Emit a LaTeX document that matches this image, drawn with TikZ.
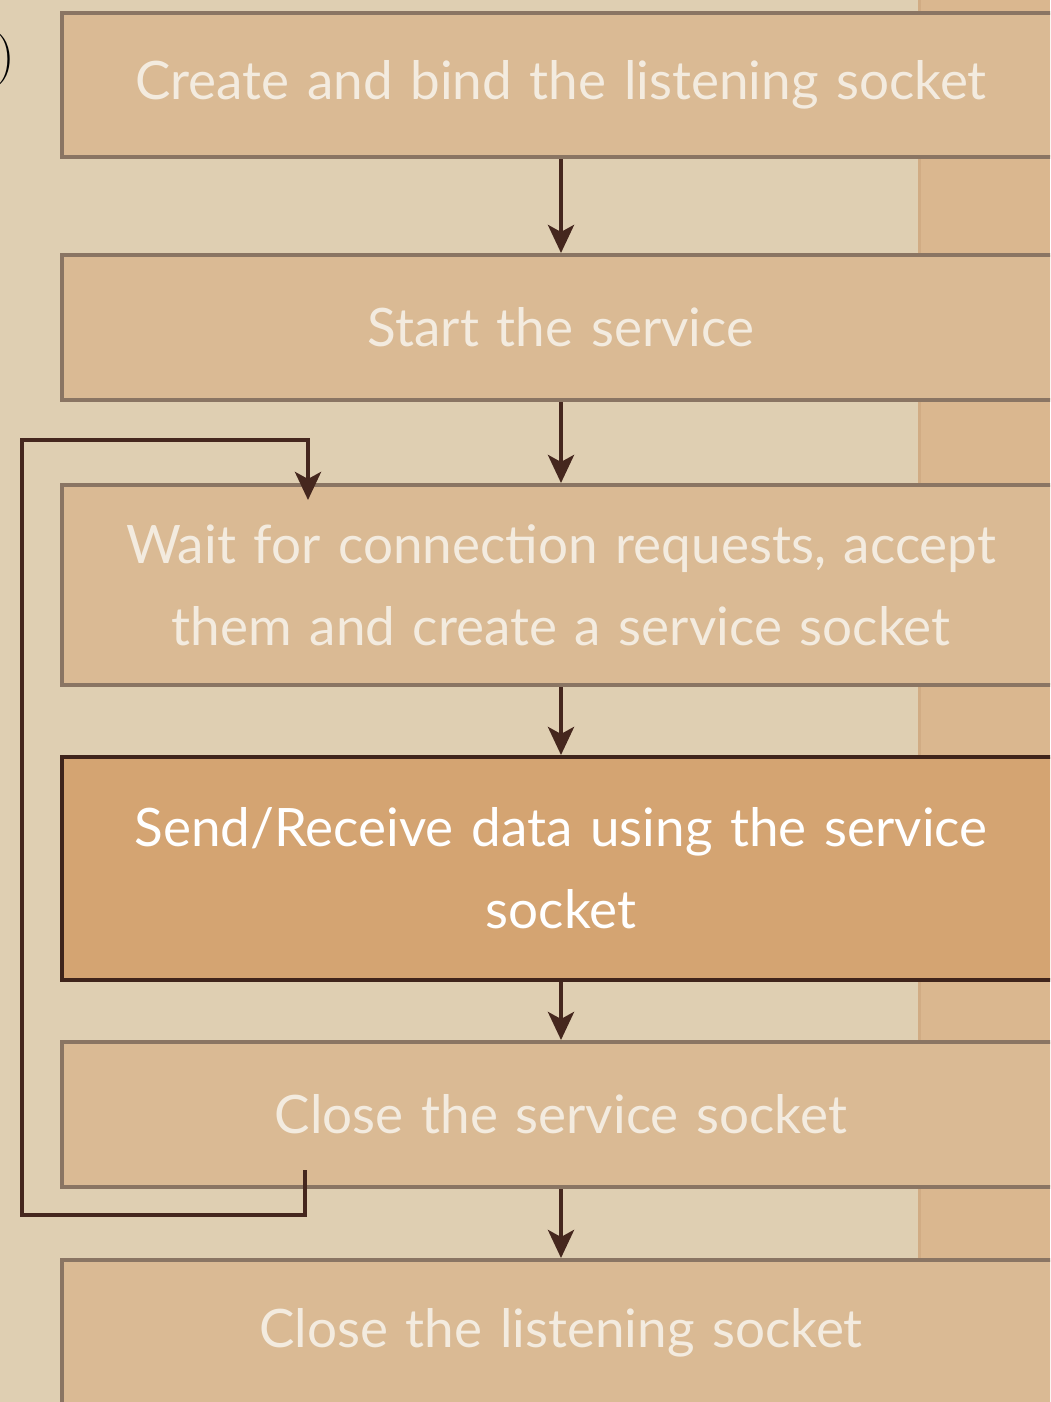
\documentclass[tikz,border=0pt]{standalone}
\usepackage{fontspec}
\setmainfont{Lato}
\newfontfamily\edgefont{Latin Modern Roman}
\usetikzlibrary{arrows.meta,calc}

\definecolor{paper}{HTML}{DFCFB2}
\definecolor{paperstrip}{HTML}{DAB78F}
\definecolor{stripedge}{HTML}{C9A27A}
\definecolor{boxfill}{HTML}{DABA94}
\definecolor{boxline}{HTML}{8A7563}
\definecolor{hotfill}{HTML}{D4A472}
\definecolor{hotline}{HTML}{3F241B}
\definecolor{flow}{HTML}{45271E}
\definecolor{cream}{HTML}{F3EBDF}

\tikzset{
  stage/.style={draw=boxline, fill=boxfill, line width=4pt, rectangle,
    minimum width=998pt, text width=980pt, align=center, inner sep=0pt,
    text=cream, font=\fontsize{53}{82}\selectfont},
  hotstage/.style={stage, draw=hotline, fill=hotfill, text=white},
  flowline/.style={draw=flow, line width=4.5pt,
    -{Stealth[length=28pt,width=26pt,inset=7pt]}},
}

\begin{document}
\begin{tikzpicture}[x=1pt,y=-1pt]
  \useasboundingbox (0,0) rectangle (1050,1402);
  \clip (0,0) rectangle (1050,1402);

  % paper background with the warmer strip on the right
  \fill[paper] (0,0) rectangle (1050,1402);
  \fill[paperstrip] (918,0) rectangle (1050,1402);
  \draw[stripedge, line width=3pt, opacity=0.5] (919,0) -- (919,1402);

  % fragment of text running in from the left edge
  \node[anchor=east, inner sep=0pt, font=\edgefont\fontsize{52}{52}\selectfont, text=black] (edge) at (15,60) {)};

  % process stages
  \node[stage, minimum height=144pt] (b1) at (561,85)
    {Create and bind the listening socket};
  \node[stage, minimum height=145pt] (b2) at (561,327.5)
    {Start the service};
  \node[stage, minimum height=200pt] (b3) at (561,585)
    {Wait for connection requests, accept\\them and create a service socket};
  \node[hotstage, minimum height=223pt] (b4) at (561,868.5)
    {Send/Receive data using the service\\socket};
  \node[stage, minimum height=145pt] (b5) at (561,1114.5)
    {Close the service socket};
  \node[stage, minimum height=145pt] (b6) at (561,1332.5)
    {Close the listening socket};

  % main flow
  \draw[flowline] (b1) -- (b2);
  \draw[flowline] (b2) -- (b3);
  \draw[flowline] (b3) -- (b4);
  \draw[flowline] (b4) -- (b5);
  \draw[flowline] (b5) -- (b6);

  % loop back from closing the service socket to waiting for requests
  \coordinate (loopstart) at (305,1170);
  \coordinate (loopbl) at (22,1215);
  \coordinate (looptl) at (22,440);
  \coordinate (loopend) at (308,500);
  \draw[flowline, line join=miter] (loopstart) |- (loopbl) -- (looptl) -| (loopend);
\end{tikzpicture}
\end{document}
